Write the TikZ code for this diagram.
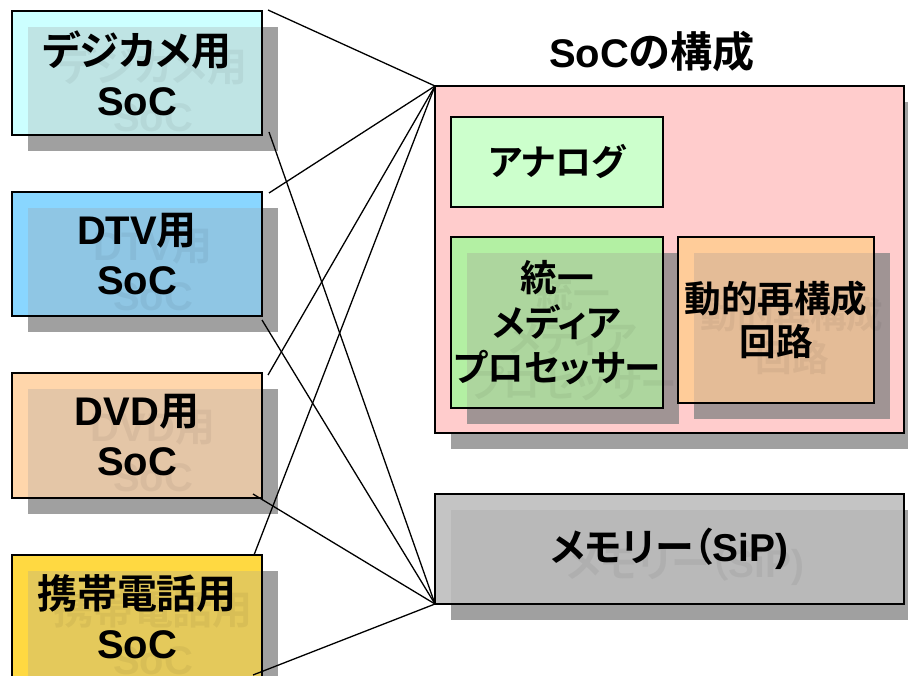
\documentclass[tikz,border=0pt]{standalone}
\usepackage{fontspec}
\setmainfont{Liberation Sans}[Scale=1.11]
\newfontfamily\jp{Noto Sans CJK JP}[Scale=1.11, RawFeature=+palt, BoldFont={Noto Sans CJK JP Bold}]
\definecolor{shgray}{HTML}{A0A0A0}
\definecolor{shmauve}{HTML}{A09494}
\definecolor{cA}{HTML}{CCFFFF}
\definecolor{cB}{HTML}{89D6FF}
\definecolor{cC}{HTML}{FFD6AB}
\definecolor{cD}{HTML}{FFD941}
\definecolor{cpink}{HTML}{FFCCCC}
\definecolor{canalog}{HTML}{CCFFCC}
\definecolor{cuni}{HTML}{B3F0A3}
\definecolor{cdyn}{HTML}{FFCC99}
\definecolor{cmem}{HTML}{C4C4C4}
\tikzset{
  frame/.style={draw=black, line width=1.6pt, inner sep=0pt, outer sep=0pt, align=center},
  ghost/.style={inner sep=0pt, align=center, text=black, text opacity=0.05},
  big/.style={font=\bfseries\fontsize{36}{50}\selectfont},
  memf/.style={font=\bfseries\fontsize{35}{40}\selectfont},
  anf/.style={font=\bfseries\fontsize{32.5}{45}\selectfont},
  mid/.style={font=\bfseries\fontsize{33}{45}\selectfont},
  dyn/.style={font=\bfseries\fontsize{33}{43}\selectfont},
  link/.style={draw=black, line width=1.3pt},
}
% #1 name, #2 x1, #3 y1, #4 x2, #5 y2, #6 fill, #7 text, #8 font style, #9 shadow colour
\newcommand\shbox[9]{%
  \fill[#9] ({#2+16},{#3+16}) rectangle ({#4+16},{#5+16});
  \fill[#6] (#2,#3) rectangle (#4,#5);
  \fill[#9, opacity=.28] ({#2+16},{#3+16}) rectangle ({#4+16},{#5+16});
  \node[ghost,#8] at ({(#2+#4)/2+16},{(#3+#5)/2+16}) {#7};
  \node[frame,#8, minimum width={(#4-#2)*1pt}, minimum height={(#5-#3)*1pt}] (#1) at ({(#2+#4)/2},{(#3+#5)/2}) {#7};
}
\begin{document}
\begin{tikzpicture}[x=1pt,y=-1pt]
\useasboundingbox (0,0) rectangle (908,676);
\clip (0,0) rectangle (908,676);

% left boxes
\shbox{b1}{12}{11}{262}{135}{cA}{{\jp デジカメ用}\\SoC}{big}{shgray}
\shbox{b2}{12}{192}{262}{316}{cB}{DTV{\jp 用}\\SoC}{big}{shgray}
\shbox{b3}{12}{373}{262}{498}{cC}{DVD{\jp 用}\\SoC}{big}{shgray}
\shbox{b4}{12}{555}{262}{679}{cD}{{\jp 携帯電話用}\\SoC}{big}{shgray}

% title
\node[inner sep=0pt, font=\bfseries] (title) at (652,52) {{\fontsize{36}{44}\selectfont SoC}{\jp\fontsize{38}{44}\selectfont の構成}};

% SoC composition box
\fill[shgray] (451,102) rectangle (920,449);
\node[frame, fill=cpink, minimum width=469pt, minimum height=347pt] (soc) at (669.5,259.5) {};

\node[frame, fill=canalog, anf, minimum width=212pt, minimum height=90pt] (analog) at (557,162) {\jp アナログ};

\shbox{uni}{451}{237}{663}{408}{cuni}{\jp 統一\\\jp メディア\\\jp プロセッサー}{mid}{shmauve}
\shbox{dynbox}{678}{237}{874}{403}{cdyn}{\jp 動的再構成\\\jp 回路}{dyn}{shmauve}

% memory
\shbox{mem}{435}{494}{904}{604}{cmem}{{\jp メモリー（}SiP)}{memf}{shgray}

% connectors
\draw[link] ([shift={(6,-1)}]b1.north east) -- (soc.north west);
\draw[link] ([shift={(7,-3)}]b1.south east) -- (mem.south west);
\draw[link] ([shift={(7,1)}]b2.north east) -- (soc.north west);
\draw[link] ([shift={(0,4)}]b2.south east) -- (mem.south west);
\draw[link] ([shift={(6,2)}]b3.north east) -- (soc.north west);
\draw[link] ([shift={(-9,-4)}]b3.south east) -- (mem.south west);
\draw[link] ([shift={(-8,0)}]b4.north east) -- (soc.north west);
\draw[link] ([shift={(-9,-4)}]b4.south east) -- (mem.south west);
\end{tikzpicture}
\end{document}
